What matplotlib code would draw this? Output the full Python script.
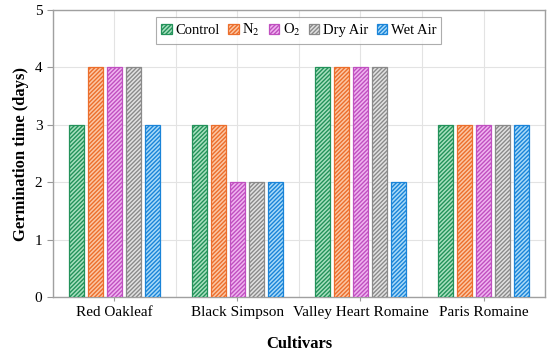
import numpy as np
import matplotlib
matplotlib.use("Agg")
import matplotlib.pyplot as plt

plt.rcParams['font.family'] = ['Liberation Serif', 'DejaVu Serif']
plt.rcParams['mathtext.fontset'] = 'stix'
plt.rcParams['hatch.linewidth'] = 1.0

cultivars = ["Red Oakleaf", "Black Simpson", "Valley Heart Romaine", "Paris Romaine"]
treatments = ["Control", "N$_2$", "O$_2$", "Dry Air", "Wet Air"]
values = {
    "Control": [3, 3, 4, 3],
    "N$_2$": [4, 3, 4, 3],
    "O$_2$": [4, 2, 4, 3],
    "Dry Air": [4, 2, 4, 3],
    "Wet Air": [3, 2, 2, 3],
}
edge_colors = ["#23925a", "#ec6e2c", "#c050c0", "#8a8a8a", "#1a84d8"]
face_colors = ["#a8e0bf", "#fbc6a4", "#f0b4f0", "#e2e2e2", "#a8daf8"]

fig = plt.figure(figsize=(5.5, 3.55), dpi=100)
ax = fig.add_axes([0.096, 0.163, 0.895, 0.809])

x = np.arange(len(cultivars))
pitch = 0.155
width = 0.122
for i, t in enumerate(treatments):
    ax.bar(x + (i - 2) * pitch, values[t], width, facecolor=face_colors[i],
           edgecolor=edge_colors[i], hatch='////////', linewidth=0.9, label=t, zorder=3)

ax.set_xlim(-0.5, 3.5)
ax.set_ylim(0, 5)
ax.set_xticks(x)
ax.set_xticklabels(cultivars, fontsize=11)
ax.set_xticks(np.arange(-0.5, 4.0, 1.0), minor=True)
ax.set_yticks(range(6))
ax.tick_params(axis='y', labelsize=11, length=4, color='#999999')
ax.tick_params(axis='x', which='major', length=3, color='#999999')
ax.tick_params(axis='x', which='minor', length=0)
ax.grid(True, which='both', color='#e3e3e3', linewidth=0.8, zorder=0)
ax.set_axisbelow(True)
for s in ax.spines.values():
    s.set_color('#a0a0a0')
    s.set_linewidth(1.0)

ax.set_ylabel("Germination time (days)", fontsize=12, fontweight='bold')
ax.set_xlabel("Cultivars", fontsize=12, fontweight='bold', labelpad=12)

leg = ax.legend(loc='upper center', bbox_to_anchor=(0.5, 1.0), ncol=5, fontsize=10.5,
                frameon=True, fancybox=False, edgecolor='#999999', handlelength=0.7,
                handleheight=0.7, handletextpad=0.25, columnspacing=0.6, borderpad=0.35)
leg.get_frame().set_linewidth(0.8)

fig.savefig("out.png", dpi=100)
